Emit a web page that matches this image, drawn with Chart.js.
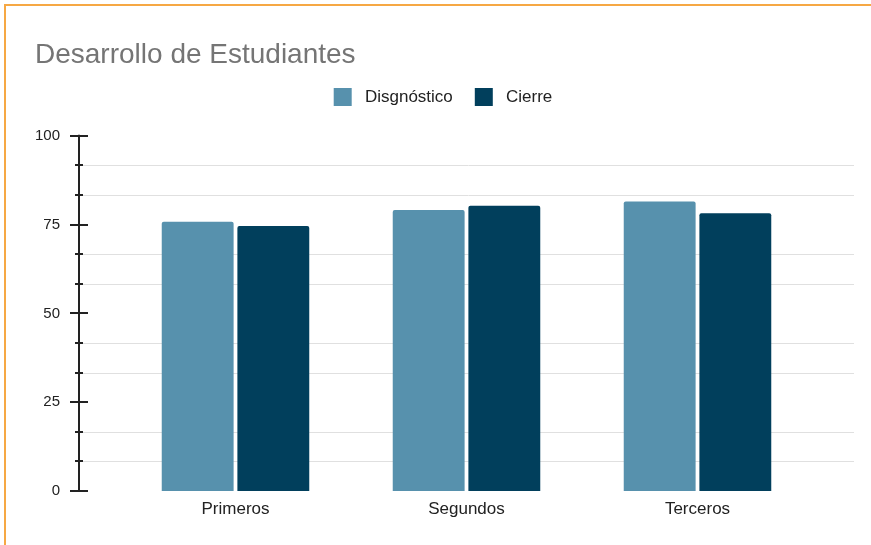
<!DOCTYPE html>
<html>
<head>
<meta charset="utf-8">
<script src="https://cdn.jsdelivr.net/npm/chart.js@4"></script>
<style>
  html, body { margin: 0; padding: 0; background: #fff; overflow: hidden; }
  #frame { position: absolute; left: 4px; top: 4px; width: 900px; height: 600px; border: 2px solid #f6a844; }
  #wrap { position: absolute; left: 0; top: 0; width: 871px; height: 545px; }
</style>
</head>
<body>
<div id="frame"></div>
<div id="wrap"><canvas id="studentsChart" width="871" height="545"></canvas></div>
<script>
// data
var categories = ['Primeros', 'Segundos', 'Terceros'];
var diagnostico = [75.8, 79.1, 81.5];
var cierre = [74.6, 80.3, 78.2];
var yTicks = [0, 25, 50, 75, 100];

var fontFamily = "'Liberation Sans', Arial, sans-serif";

function isMajor(v) {
    return yTicks.some(function (t) { return Math.abs(t - v) < 0.01; });
}

// y axis line, tick marks and gridlines (drawn outside the category span)
var axisPlugin = {
    id: 'axisPlugin',
    beforeDatasetsDraw: function (chart) {
        var ctx = chart.ctx;
        var area = chart.chartArea;
        var y = chart.scales.y;
        var axisX = area.left - 41;
        ctx.save();
        y.ticks.forEach(function (t) {
            var py = Math.round(y.getPixelForValue(t.value)) + 0.5;
            var major = isMajor(t.value);
            if (!major) {
                ctx.strokeStyle = '#e0e0e0';
                ctx.lineWidth = 1;
                ctx.beginPath();
                ctx.moveTo(axisX + 4, py);
                ctx.lineTo(area.right + 41, py);
                ctx.stroke();
            }
            var half = major ? 9 : 4;
            ctx.strokeStyle = '#222';
            ctx.lineWidth = 2;
            ctx.beginPath();
            ctx.moveTo(axisX - half, py - 0.5);
            ctx.lineTo(axisX + half, py - 0.5);
            ctx.stroke();
        });
        ctx.strokeStyle = '#222';
        ctx.lineWidth = 2;
        ctx.beginPath();
        ctx.moveTo(axisX, y.getPixelForValue(100) - 1);
        ctx.lineTo(axisX, y.getPixelForValue(0) + 1);
        ctx.stroke();
        ctx.restore();
    }
};

var chartCanvas = document.getElementById('studentsChart').getContext('2d');
var studentsChart = new Chart(chartCanvas, {
    type: 'bar',
    data: {
        labels: categories,
        datasets: [{
            label: 'Disgnóstico',
            data: diagnostico,
            backgroundColor: '#5791ad',
            borderRadius: { topLeft: 2, topRight: 2 },
            borderSkipped: 'start'
        }, {
            label: 'Cierre',
            data: cierre,
            backgroundColor: '#013f5c',
            borderRadius: { topLeft: 2, topRight: 2 },
            borderSkipped: 'start'
        }]
    },
    options: {
        responsive: false,
        animation: false,
        events: [],
        categoryPercentage: 0.655,
        barPercentage: 0.95,
        layout: {
            padding: { left: 35, right: 20, top: 0, bottom: 17.6 }
        },
        plugins: {
            title: {
                display: true,
                text: 'Desarrollo de Estudiantes',
                align: 'start',
                color: '#757575',
                font: { family: fontFamily, size: 28, weight: 'normal', lineHeight: 0.8 },
                padding: { top: 43.6, bottom: 0 }
            },
            subtitle: {
                display: true,
                text: '',
                position: 'top',
                weight: 500,
                font: { size: 1 },
                padding: { top: 0, bottom: 18.6 }
            },
            legend: {
                display: true,
                position: 'top',
                labels: {
                    boxWidth: 18,
                    boxHeight: 18,
                    padding: 22,
                    color: '#222',
                    font: { family: fontFamily, size: 17 },
                    generateLabels: function (chart) {
                        var items = Chart.defaults.plugins.legend.labels.generateLabels(chart);
                        items.forEach(function (it) { it.text = ' ' + it.text; });
                        return items;
                    }
                }
            },
            tooltip: { enabled: false }
        },
        scales: {
            x: {
                grid: { display: false, drawTicks: false },
                border: { display: false },
                ticks: {
                    color: '#222',
                    padding: 8,
                    font: { family: fontFamily, size: 17 }
                }
            },
            y: {
                min: 0,
                max: 100,
                grid: { display: false, drawTicks: false },
                border: { display: false },
                afterFit: function (scale) {
                    scale.width = 85;
                    scale.paddingTop = 9;
                    scale.paddingBottom = 9;
                },
                ticks: {
                    stepSize: 100 / 12,
                    autoSkip: false,
                    padding: 60,
                    color: '#222',
                    font: { family: fontFamily, size: 15 },
                    callback: function (v) { return isMajor(v) ? Math.round(v) : ''; }
                }
            },
            // empty right-hand margin so the legend centres like the original
            yRight: {
                position: 'right',
                min: 0,
                max: 100,
                grid: { display: false, drawTicks: false },
                border: { display: false },
                ticks: { display: false },
                afterFit: function (scale) {
                    scale.width = 38;
                    scale.paddingTop = 0;
                    scale.paddingBottom = 0;
                }
            }
        }
    },
    plugins: [axisPlugin]
});
</script>
</body>
</html>
